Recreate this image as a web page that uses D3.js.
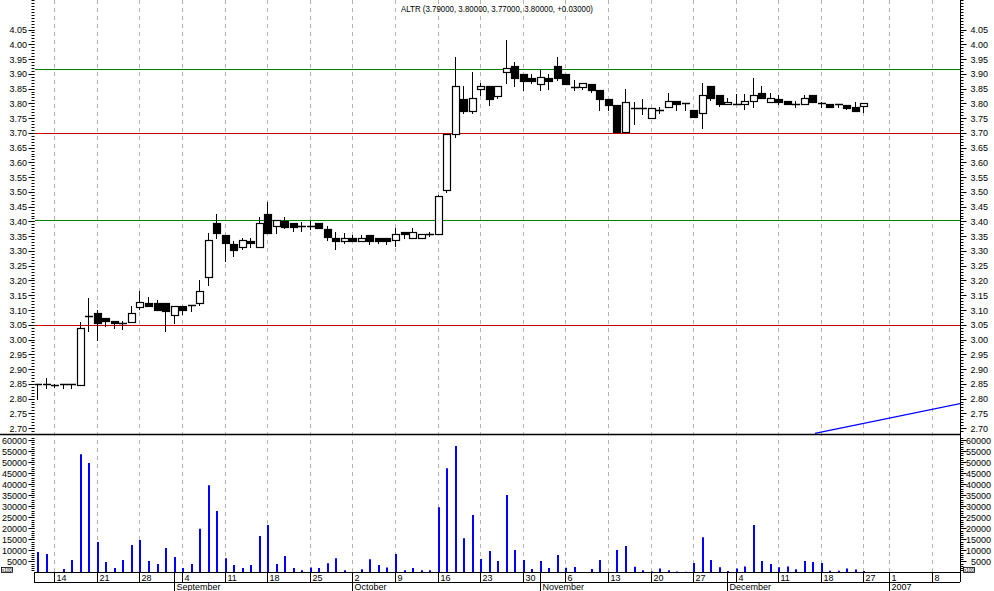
<!DOCTYPE html>
<html><head><meta charset="utf-8">
<script src="https://cdn.jsdelivr.net/npm/d3@7"></script>
<style>
body{margin:0;background:#fff;}
svg{display:block;}
text{font-family:"Liberation Sans",Arial,sans-serif;font-size:9px;fill:#000;}
</style>
</head><body>
<svg id="chart" width="994" height="591"></svg>
<script>
// ---------------- DATA ----------------
const symbol = "ALTR";
const titleValues = ["3.79000", "3.80000", "3.77000", "3.80000", "+0.03000"];
const firstDay = "2006-08-10";
const lastAxisDay = "2007-01-12";
const holidays = ["2006-12-25", "2006-12-26"];

const open  = [2.85,2.845,2.845,2.85,2.85,2.845,3.08,3.09,3.073,3.062,3.055,3.06,3.111,3.123,3.124,3.123,3.082,3.113,3.116,3.125,
               3.213,3.394,3.354,3.324,3.314,3.334,3.314,3.425,3.385,3.403,3.394,3.385,3.385,3.394,3.373,3.343,3.335,3.343,3.335,3.354,
               3.343,3.343,3.337,3.364,3.343,3.343,3.356,3.356,3.505,3.695,3.814,3.775,3.847,3.859,3.826,3.907,3.926,3.899,3.885,3.867,
               3.885,3.926,3.899,3.856,3.856,3.864,3.845,3.814,3.794,3.704,3.785,3.785,3.749,3.777,3.789,3.808,3.80,3.777,3.766,3.859,
               3.828,3.797,3.797,3.797,3.808,3.834,3.806,3.814,3.808,3.797,3.797,3.828,3.80,3.797,3.797,3.794,3.787,3.79];
const high  = [2.85,2.87,2.85,2.85,2.85,3.06,3.14,3.10,3.073,3.062,3.062,3.115,3.165,3.143,3.133,3.123,3.113,3.113,3.116,3.20,
               3.36,3.425,3.354,3.335,3.345,3.345,3.414,3.466,3.405,3.414,3.394,3.397,3.40,3.394,3.385,3.365,3.36,3.354,3.355,3.354,
               3.343,3.343,3.377,3.364,3.377,3.356,3.364,3.49,3.695,3.958,3.859,3.906,3.87,3.859,3.859,4.015,3.939,3.90,3.90,3.913,
               3.90,3.958,3.90,3.879,3.868,3.864,3.845,3.814,3.794,3.847,3.806,3.814,3.785,3.789,3.834,3.808,3.80,3.777,3.868,3.859,
               3.828,3.819,3.83,3.831,3.885,3.859,3.834,3.828,3.808,3.808,3.828,3.828,3.806,3.797,3.797,3.794,3.806,3.80];
const low   = [2.80,2.835,2.84,2.835,2.835,2.845,3.03,3.00,3.045,3.04,3.035,3.06,3.105,3.115,3.10,3.03,3.057,3.085,3.095,3.116,
               3.185,3.345,3.267,3.284,3.305,3.314,3.314,3.362,3.36,3.378,3.368,3.367,3.375,3.377,3.337,3.306,3.328,3.335,3.335,3.324,
               3.328,3.324,3.318,3.345,3.343,3.343,3.35,3.356,3.50,3.687,3.768,3.768,3.828,3.794,3.819,3.868,3.86,3.845,3.87,3.845,
               3.849,3.879,3.867,3.845,3.85,3.837,3.778,3.777,3.704,3.704,3.73,3.763,3.749,3.766,3.789,3.777,3.777,3.755,3.717,3.81,
               3.79,3.797,3.797,3.78,3.789,3.817,3.806,3.797,3.797,3.789,3.797,3.806,3.789,3.787,3.789,3.78,3.775,3.77];
const close = [2.85,2.85,2.845,2.85,2.845,3.04,3.08,3.055,3.063,3.055,3.055,3.09,3.126,3.115,3.10,3.095,3.113,3.101,3.116,3.163,
               3.337,3.362,3.326,3.303,3.337,3.326,3.394,3.362,3.405,3.382,3.382,3.385,3.385,3.377,3.346,3.335,3.343,3.335,3.343,3.335,
               3.335,3.335,3.356,3.356,3.364,3.356,3.356,3.486,3.695,3.859,3.775,3.817,3.859,3.816,3.859,3.919,3.887,3.877,3.877,3.888,
               3.877,3.887,3.867,3.856,3.868,3.845,3.816,3.794,3.704,3.806,3.785,3.785,3.785,3.777,3.808,3.797,3.80,3.755,3.828,3.817,
               3.797,3.806,3.797,3.808,3.828,3.817,3.817,3.806,3.797,3.797,3.817,3.806,3.80,3.787,3.797,3.783,3.775,3.80];
const volume = [9300,8400,0,1600,5700,53600,49600,13800,4800,2000,5700,12500,14700,5200,3900,11100,7000,2000,3900,19800,
                39500,27800,6500,3400,2000,3400,16500,21500,3800,7500,2000,1000,2300,2000,4200,6500,1000,200,1500,6000,
                3400,2300,8400,1000,2000,1000,1000,29500,47200,57300,15500,26000,6100,9700,5200,35100,10200,5650,1600,5200,
                2000,7900,2200,2500,0,1600,5650,0,10200,12000,2600,1000,500,1800,1000,500,300,4300,16000,5700,
                2400,700,1800,2700,21500,5200,3800,2400,2700,1500,5200,4800,4300,800,800,1800,1400,700];

const weekTicks = ["2006-08-14","2006-08-21","2006-08-28","2006-09-04","2006-09-11","2006-09-18","2006-09-25",
                   "2006-10-02","2006-10-09","2006-10-16","2006-10-23","2006-10-30","2006-11-06","2006-11-13",
                   "2006-11-20","2006-11-27","2006-12-04","2006-12-11","2006-12-18","2006-12-27","2007-01-01","2007-01-08"];
const monthStarts = ["2006-09-01","2006-10-02","2006-11-01","2006-12-01","2007-01-01"];
const monthLabels = ["September","October","November","December","2007"];

const priceTicks = [2.70,2.75,2.80,2.85,2.90,2.95,3.00,3.05,3.10,3.15,3.20,3.25,3.30,3.35,3.40,3.45,3.50,3.55,3.60,3.65,3.70,3.75,3.80,3.85,3.90,3.95,4.00,4.05];
const volumeTicks = [5000,10000,15000,20000,25000,30000,35000,40000,45000,50000,55000,60000];

const levelPrices = [3.915, 3.700, 3.405, 3.049];
const levelColors = ["#008000", "#cc0000", "#008000", "#cc0000"];

const trendDays = [91.3, 108.4];
const trendPrices = [2.682, 2.783];

// ---------------- BUILD DAYS ----------------
const parse = d3.utcParse("%Y-%m-%d"), fmt = d3.utcFormat("%Y-%m-%d");
const days = [];
for (let d = parse(firstDay); d <= parse(lastAxisDay); d = d3.utcDay.offset(d, 1)) {
  const wd = d.getUTCDay();
  if (wd === 0 || wd === 6) continue;
  if (holidays.includes(fmt(d))) continue;
  days.push(fmt(d));
}
const idx = s => days.indexOf(s);

// ---------------- SCALES ----------------
const L = 35, R = 960;
const x = d3.scaleLinear().domain([-0.265, 108.33]).range([L, R]);
const y = d3.scaleLinear().domain([2.68, 4.15]).range([434, 0]);
const yv = d3.scaleLinear().domain([0, 60000]).range([572.5, 440]);

const svg = d3.select("#chart");
const px = v => Math.round(v) + 0.5;

svg.append("defs").append("clipPath").attr("id","pclip")
  .append("rect").attr("x", L).attr("y", 0).attr("width", R - L).attr("height", 434);

// ---------------- GRID ----------------
svg.append("g").selectAll("line").data(weekTicks).join("line")
  .attr("x1", d => px(x(idx(d)))).attr("x2", d => px(x(idx(d))))
  .attr("y1", 0).attr("y2", 572)
  .attr("stroke", "#b4b4b4").attr("stroke-dasharray", "4,4");

svg.append("g").selectAll("line").data(levelPrices).join("line")
  .attr("x1", L).attr("x2", R)
  .attr("y1", d => px(y(d))).attr("y2", d => px(y(d)))
  .attr("stroke", (d, i) => levelColors[i]).attr("stroke-width", 1);

svg.append("line").attr("clip-path","url(#pclip)")
  .attr("x1", x(trendDays[0])).attr("y1", y(trendPrices[0]))
  .attr("x2", x(trendDays[1])).attr("y2", y(trendPrices[1]))
  .attr("stroke", "#0000ff").attr("stroke-width", 1.2);

svg.append("line").attr("x1", 0).attr("x2", R).attr("y1", 434.5).attr("y2", 434.5)
  .attr("stroke", "#000").attr("stroke-width", 1.3);

// ---------------- CANDLES ----------------
const data = open.map((o, i) => ({i, o, h: high[i], l: low[i], c: close[i], v: volume[i]}));
const cg = svg.append("g").attr("clip-path","url(#pclip)");
data.forEach(d => {
  const cx = Math.round(x(d.i));
  cg.append("line").attr("x1", cx + 0.5).attr("x2", cx + 0.5)
    .attr("y1", Math.round(y(d.h))).attr("y2", Math.round(y(d.l)) + 1)
    .attr("stroke", "#000");
  const top = Math.round(y(Math.max(d.o, d.c))), bot = Math.round(y(Math.min(d.o, d.c)));
  if (bot - top < 2) {
    cg.append("line").attr("x1", cx - 3).attr("x2", cx + 5)
      .attr("y1", top + 0.5).attr("y2", top + 0.5).attr("stroke", "#000").attr("stroke-width", 1.5);
  } else {
    cg.append("rect").attr("x", cx - 2.5).attr("y", top + 0.5)
      .attr("width", 7).attr("height", bot - top)
      .attr("fill", d.c >= d.o ? "#fff" : "#000")
      .attr("stroke", "#000").attr("stroke-width", 1.2);
  }
});

// ---------------- VOLUME ----------------
svg.append("g").selectAll("line").data(data.filter(d => d.v > 0)).join("line")
  .attr("x1", d => Math.round(x(d.i)) + 1).attr("x2", d => Math.round(x(d.i)) + 1)
  .attr("y1", yv(0)).attr("y2", d => yv(d.v))
  .attr("stroke", "#0000ff").attr("stroke-width", 2);

// ---------------- AXES ----------------
svg.append("line").attr("x1", R + 0.5).attr("x2", R + 0.5).attr("y1", 0).attr("y2", 582).attr("stroke", "#000");

const minorPrice = d3.range(269, 416).map(v => v / 100);
const minorVol = d3.range(1, 62).map(v => v * 1000);

function ticksOn(side) {
  const g = svg.append("g");
  const dir = side === "left" ? -1 : 1;
  const base = side === "left" ? L - 0.5 : R + 0.5;
  g.selectAll(".mp").data(minorPrice).join("line")
    .attr("x1", base).attr("x2", base + dir * 3)
    .attr("y1", d => px(y(d))).attr("y2", d => px(y(d))).attr("stroke", "#000");
  g.selectAll(".Mp").data(priceTicks).join("line")
    .attr("x1", base).attr("x2", base + dir * 6)
    .attr("y1", d => px(y(d))).attr("y2", d => px(y(d))).attr("stroke", "#000");
  g.selectAll(".mv").data(minorVol).join("line")
    .attr("x1", base).attr("x2", base + dir * 3)
    .attr("y1", d => px(yv(d))).attr("y2", d => px(yv(d))).attr("stroke", "#000");
  g.selectAll(".Mv").data(volumeTicks).join("line")
    .attr("x1", base).attr("x2", base + dir * 6)
    .attr("y1", d => px(yv(d))).attr("y2", d => px(yv(d))).attr("stroke", "#000");
  const tx = side === "left" ? 27 : 988;
  g.selectAll(".lp").data(priceTicks).join("text")
    .attr("x", tx).attr("y", d => y(d) + 3.5).attr("text-anchor", "end")
    .text(d => d.toFixed(2));
  g.selectAll(".lv").data(volumeTicks).join("text")
    .attr("x", side === "left" ? 27 : 991).attr("y", d => yv(d) + 3.5).attr("text-anchor", "end")
    .text(d => d);
  const bx = side === "left" ? 1 : 963;
  g.append("rect").attr("x", bx + 0.5).attr("y", 567.5).attr("width", 11).attr("height", 5)
    .attr("fill", "#fff").attr("stroke", "#000").attr("stroke-width", 0.8);
  g.append("text").attr("x", bx + 6).attr("y", 571.6).attr("text-anchor", "middle")
    .style("font-size", "4.5px").text("x100");
}
ticksOn("left");
ticksOn("right");

// ---------------- DATE AXIS ----------------
const ax = svg.append("g");
ax.append("line").attr("x1", 34).attr("x2", R).attr("y1", 572.5).attr("y2", 572.5).attr("stroke", "#000");
ax.append("line").attr("x1", 34).attr("x2", R).attr("y1", 582.5).attr("y2", 582.5).attr("stroke", "#000");
ax.append("line").attr("x1", 34.5).attr("x2", 34.5).attr("y1", 572).attr("y2", 583).attr("stroke", "#000");
ax.selectAll(".wt").data(weekTicks).join("line")
  .attr("x1", d => px(x(idx(d)))).attr("x2", d => px(x(idx(d))))
  .attr("y1", 572).attr("y2", 582).attr("stroke", "#000");
ax.selectAll(".wl").data(weekTicks).join("text")
  .attr("x", d => px(x(idx(d))) + 2).attr("y", 580.5)
  .text(d => String(+d.slice(8)));
ax.selectAll(".mt").data(monthStarts).join("line")
  .attr("x1", d => px(x(idx(d)))).attr("x2", d => px(x(idx(d))))
  .attr("y1", 572).attr("y2", 591).attr("stroke", "#000");
ax.selectAll(".ml").data(monthStarts).join("text")
  .attr("x", d => px(x(idx(d))) + 2).attr("y", 590)
  .text((d, i) => monthLabels[i]);

// ---------------- TITLE ----------------
svg.append("text").attr("x", 497).attr("y", 12).attr("text-anchor", "middle")
  .attr("textLength", 192).attr("lengthAdjust", "spacingAndGlyphs")
  .text(`${symbol} (${titleValues.join(", ")})`);
</script>
</body></html>
